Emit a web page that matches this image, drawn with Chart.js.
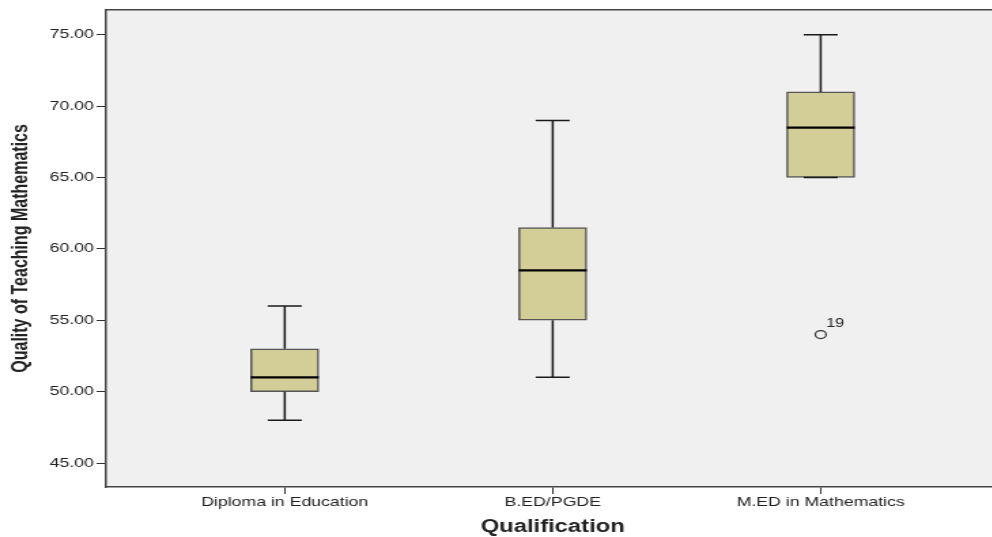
<!DOCTYPE html>
<html>
<head>
<meta charset="utf-8">
<script src="https://cdn.jsdelivr.net/npm/chart.js@4/dist/chart.umd.min.js"></script>
<style>
  html, body { margin: 0; padding: 0; background: #fff; overflow: hidden; width: 992px; height: 537px; }
  /* the reference picture is stretched sideways, so the canvas is too */
  #wrap { width: 740px; height: 537px; transform: scaleX(1.36); transform-origin: 0 0; }
</style>
</head>
<body>
<div id="wrap"><canvas id="boxChart" width="740" height="537"></canvas></div>
<script>
// ---- data ----
const groups = ['Diploma in Education', 'B.ED/PGDE', 'M.ED in Mathematics'];
const whiskerLow = [48, 51, 65];
const q1 = [50, 55, 65];
const medians = [51, 58.5, 68.5];
const q3 = [53, 61.5, 71];
const whiskerHigh = [56, 69, 75];
const outlierGroup = [2];
const outlierValue = [54];
const outlierLabel = ['19'];
const yTicks = [45, 50, 55, 60, 65, 70, 75];

const FONT = "'Liberation Sans', Arial, sans-serif";

// plot background + top frame line
const frame = {
    id: 'frame',
    beforeDraw(chart) {
        const { ctx, chartArea: a } = chart;
        ctx.save();
        ctx.fillStyle = '#f0f0f0';
        ctx.fillRect(a.left, a.top, a.right - a.left, a.bottom - a.top);
        ctx.restore();
    },
    afterDraw(chart) {
        const { ctx, chartArea: a } = chart;
        ctx.save();
        ctx.strokeStyle = '#444';
        ctx.lineWidth = 1.5;
        ctx.beginPath();
        ctx.moveTo(a.left, a.top);
        ctx.lineTo(a.right, a.top);
        ctx.stroke();
        ctx.restore();
    }
};

// whiskers, caps, medians and outlier labels
const boxParts = {
    id: 'boxParts',
    afterDatasetsDraw(chart) {
        const { ctx, scales: { x, y } } = chart;
        const halfBox = 25, halfCap = 12.5;
        ctx.save();
        groups.forEach((g, i) => {
            const cx = x.getPixelForValue(i);
            ctx.strokeStyle = '#1a1a1a';
            ctx.lineWidth = 1.5;
            ctx.beginPath();
            ctx.moveTo(cx, y.getPixelForValue(q3[i]));
            ctx.lineTo(cx, y.getPixelForValue(whiskerHigh[i]));
            ctx.moveTo(cx, y.getPixelForValue(q1[i]));
            ctx.lineTo(cx, y.getPixelForValue(whiskerLow[i]));
            ctx.moveTo(cx - halfCap, y.getPixelForValue(whiskerHigh[i]));
            ctx.lineTo(cx + halfCap, y.getPixelForValue(whiskerHigh[i]));
            ctx.moveTo(cx - halfCap, y.getPixelForValue(whiskerLow[i]));
            ctx.lineTo(cx + halfCap, y.getPixelForValue(whiskerLow[i]));
            ctx.stroke();

            ctx.strokeStyle = '#000';
            ctx.lineWidth = 2.2;
            ctx.beginPath();
            ctx.moveTo(cx - halfBox, y.getPixelForValue(medians[i]));
            ctx.lineTo(cx + halfBox, y.getPixelForValue(medians[i]));
            ctx.stroke();
        });

        ctx.fillStyle = '#222';
        ctx.font = '12px ' + FONT;
        ctx.textAlign = 'left';
        ctx.textBaseline = 'middle';
        outlierGroup.forEach((g, k) => {
            const px = x.getPixelForValue(g);
            const py = y.getPixelForValue(outlierValue[k]);
            ctx.fillText(outlierLabel[k], px + 4, py - 11);
        });
        ctx.restore();
    }
};

new Chart(document.getElementById('boxChart').getContext('2d'), {
    type: 'bar',
    data: {
        datasets: [{
            label: 'IQR',
            data: groups.map((g, i) => ({ x: i, y: [q1[i], q3[i]] })),
            backgroundColor: '#d3ce97',
            borderColor: '#555',
            borderWidth: 1.5,
            borderSkipped: false,
            barThickness: 50
        }, {
            type: 'scatter',
            label: 'Outliers',
            data: outlierGroup.map((g, k) => ({ x: g, y: outlierValue[k] })),
            pointStyle: 'circle',
            pointRadius: 4,
            pointBackgroundColor: 'rgba(0,0,0,0)',
            pointBorderColor: '#333',
            pointBorderWidth: 1.2
        }]
    },
    options: {
        responsive: false,
        animation: false,
        layout: { padding: { top: 9, right: 3, left: 0, bottom: 0 } },
        plugins: {
            legend: { display: false },
            tooltip: { enabled: false }
        },
        scales: {
            x: {
                type: 'linear',
                offset: false,
                min: -2 / 3,
                max: 8 / 3,
                afterBuildTicks: (s) => { s.ticks = groups.map((g, i) => ({ value: i })); },
                afterFit: (s) => { s.height = 50; },
                ticks: {
                    color: '#222',
                    padding: 1,
                    autoSkip: false,
                    maxRotation: 0,
                    font: { family: FONT, size: 13 },
                    callback: (v) => groups[v]
                },
                grid: { offset: false, drawOnChartArea: false, drawTicks: true, tickLength: 7, color: '#333' },
                border: { display: true, color: '#444', width: 1.5 },
                title: {
                    display: true,
                    text: 'Qualification',
                    color: '#222',
                    font: { family: FONT, size: 17.5, weight: 'bold', lineHeight: 1.1 },
                    padding: { top: 0, bottom: 0 }
                }
            },
            y: {
                min: 43.32,
                max: 76.75,
                afterBuildTicks: (s) => { s.ticks = yTicks.map(v => ({ value: v })); },
                afterFit: (s) => { s.width = 78; },
                ticks: {
                    color: '#222',
                    padding: 2,
                    font: { family: FONT, size: 13 },
                    callback: (v) => Number(v).toFixed(2)
                },
                grid: { drawOnChartArea: false, drawTicks: true, tickLength: 7, color: '#333' },
                border: { display: true, color: '#444', width: 1.5 },
                title: {
                    display: true,
                    text: 'Quality of Teaching Mathematics',
                    color: '#222',
                    font: { family: FONT, size: 16, weight: 'bold' },
                    padding: { top: 6, bottom: 0 }
                }
            }
        }
    },
    plugins: [frame, boxParts]
});
</script>
</body>
</html>
